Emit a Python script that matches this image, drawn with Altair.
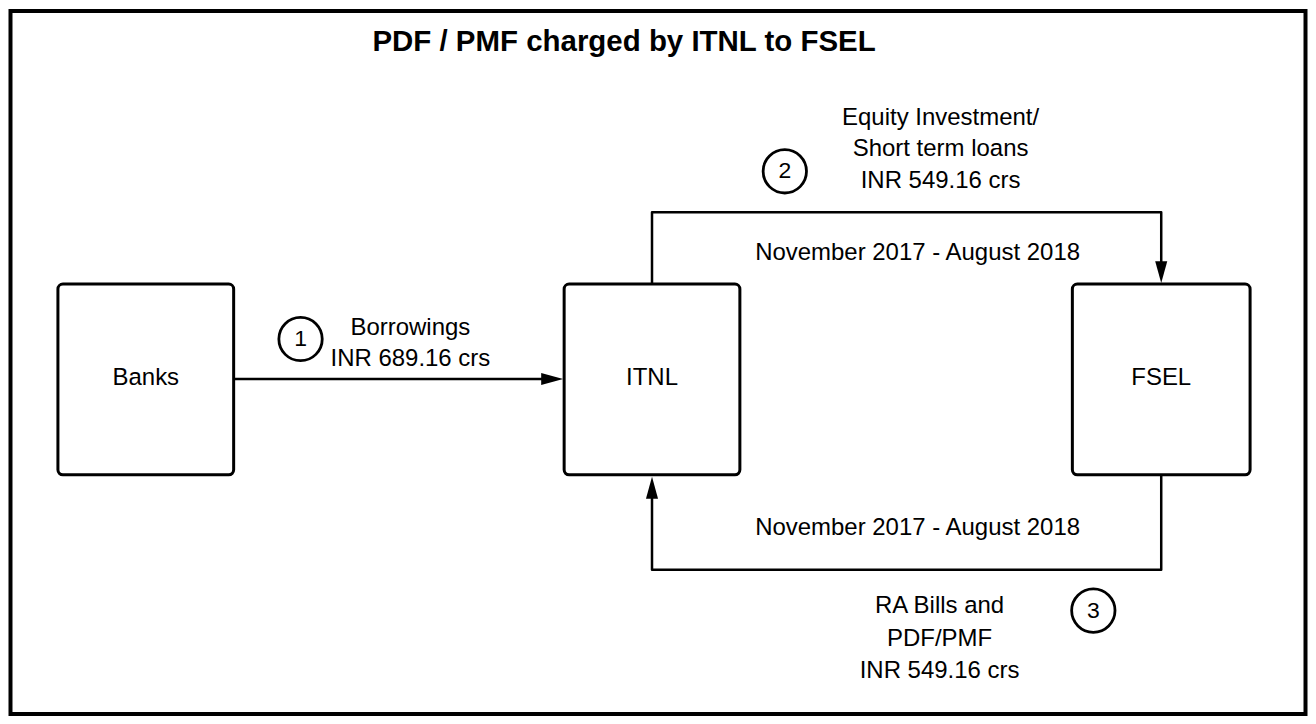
import altair as alt
import pandas as pd

# ---- content ----
title_text = "PDF / PMF charged by ITNL to FSEL"
entities = ["Banks", "ITNL", "FSEL"]
step_numbers = ["1", "2", "3"]
flow_lines = [
    ["Borrowings", "INR 689.16 crs"],
    ["Equity Investment/", "Short term loans", "INR 549.16 crs"],
    ["RA Bills and", "PDF/PMF", "INR 549.16 crs"],
]
period_labels = ["November 2017 - August 2018", "November 2017 - August 2018"]

# ---- layout (reference pixel coordinates) ----
box_left = [57, 564, 1073]
box_right = [233, 740, 1251]
box_top = [283, 283, 283]
box_bottom = [474, 474, 474]
box_label_x = [145, 652, 1162]
box_label_y = [377, 377, 377]

connector_paths = [
    [(233, 378), (556, 378)],
    [(652, 283), (652, 211), (1162, 211), (1162, 266)],
    [(1162, 474), (1162, 569), (652, 569), (652, 492)],
]
arrow_x = [552, 1162, 652]
arrow_y = [378, 271, 487]
arrow_dir = ["right", "down", "up"]
circle_x = [300, 785, 1094]
circle_y = [338, 170, 610]
flow_x = [410, 941, 940]
flow_y = [[327, 358], [117, 148, 180], [605, 638, 670]]
period_x = [918, 918]
period_y = [252, 527]

FONT = "Liberation Sans"

X = alt.Scale(domain=[8, 1308], nice=False, zero=False)
Y = alt.Scale(domain=[8, 716], nice=False, zero=False, reverse=True)

def xq(f, **kw):
    return alt.X(f, type="quantitative", scale=X, axis=None, **kw)

def yq(f, **kw):
    return alt.Y(f, type="quantitative", scale=Y, axis=None, **kw)

# outer frame
frame_df = pd.DataFrame({"x0": [9.5], "x1": [1306.5], "y0": [9.5], "y1": [713.5]})
frame = alt.Chart(frame_df).mark_rect(fill=None, stroke="black", strokeWidth=4).encode(
    x=xq("x0"), x2="x1", y=yq("y0"), y2="y1"
)

# boxes
box_df = pd.DataFrame({"name": entities, "x0": box_left, "x1": box_right,
                       "y0": box_top, "y1": box_bottom,
                       "lx": box_label_x, "ly": box_label_y})
boxes = alt.Chart(box_df).mark_rect(fill="white", stroke="black", strokeWidth=3,
                                    cornerRadius=5).encode(
    x=xq("x0"), x2="x1", y=yq("y0"), y2="y1"
)
box_text = alt.Chart(box_df).mark_text(font=FONT, fontSize=24, color="black",
                                       align="center", baseline="middle").encode(
    x=xq("lx"), y=yq("ly"), text="name:N"
)

# connectors
rows = []
for pi, path in enumerate(connector_paths):
    for si, (px, py) in enumerate(path):
        rows.append({"path": pi, "seq": si, "x": px, "y": py})
conn_df = pd.DataFrame(rows)
connectors = alt.Chart(conn_df).mark_line(color="black", strokeWidth=2.5,
                                          strokeJoin="round").encode(
    x=xq("x"), y=yq("y"), detail="path:N", order="seq:Q"
)

# arrowheads
shapes = {
    "right": "M-1,-0.55L-1,0.55L1,0Z",
    "down": "M-0.55,-1L0.55,-1L0,1Z",
    "up": "M-0.55,1L0.55,1L0,-1Z",
}
heads = []
for ax, ay, d in zip(arrow_x, arrow_y, arrow_dir):
    heads.append(
        alt.Chart(pd.DataFrame({"x": [ax], "y": [ay]})).mark_point(
            shape=shapes[d], filled=True, fill="black", color="black",
            size=484, opacity=1, strokeWidth=0.5
        ).encode(x=xq("x"), y=yq("y"))
    )

# numbered circles
circ_df = pd.DataFrame({"n": step_numbers, "x": circle_x, "y": circle_y})
circles = alt.Chart(circ_df).mark_point(shape="circle", filled=False, color="black",
                                        strokeWidth=2.8, size=1886, opacity=1).encode(
    x=xq("x"), y=yq("y")
)
circ_text = alt.Chart(circ_df).mark_text(font=FONT, fontSize=23, color="black",
                                         align="center", baseline="middle").encode(
    x=xq("x"), y=yq("y"), text="n:N"
)

# flow labels
lab_rows = []
for fx, ys, lines in zip(flow_x, flow_y, flow_lines):
    for ly, t in zip(ys, lines):
        lab_rows.append({"x": fx, "y": ly, "t": t})
for px, py, t in zip(period_x, period_y, period_labels):
    lab_rows.append({"x": px, "y": py, "t": t})
lab_df = pd.DataFrame(lab_rows)
labels = alt.Chart(lab_df).mark_text(font=FONT, fontSize=24, color="black",
                                     align="center", baseline="middle").encode(
    x=xq("x"), y=yq("y"), text="t:N"
)

# title
title_df = pd.DataFrame({"x": [624], "y": [41], "t": [title_text]})
title = alt.Chart(title_df).mark_text(font=FONT, fontSize=29.5, fontWeight="bold",
                                      color="black", align="center",
                                      baseline="middle").encode(
    x=xq("x"), y=yq("y"), text="t:N"
)

chart = alt.layer(frame, connectors, *heads, boxes, box_text, circles, circ_text,
                  labels, title).properties(
    width=1300, height=708, padding=0, background="white"
).configure_view(stroke=None)

chart.save("out.html", embed_options={"renderer": "svg", "actions": False})
